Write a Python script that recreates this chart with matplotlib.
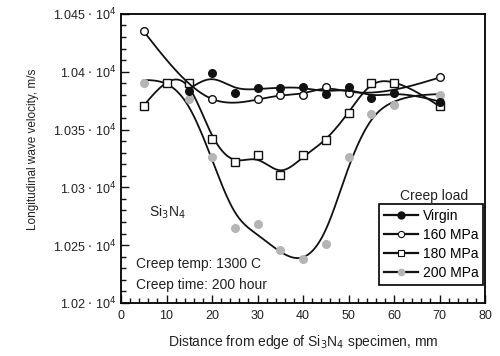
import numpy as np
import matplotlib.pyplot as plt
from matplotlib.ticker import MultipleLocator, FuncFormatter

plt.rcParams['font.family'] = ['Liberation Sans', 'DejaVu Sans']

# data, velocity in m/s
x_virgin = [15, 20, 25, 30, 35, 40, 45, 50, 55, 60, 70]
v_virgin = [10383, 10399, 10382, 10386, 10386, 10387, 10381, 10387, 10377, 10382, 10374]

x_160 = [5, 20, 30, 35, 40, 45, 50, 70]
v_160 = [10435, 10376, 10376, 10380, 10380, 10387, 10382, 10395]

x_180 = [5, 10, 15, 20, 25, 30, 35, 40, 45, 50, 55, 60, 70]
v_180 = [10370, 10390, 10390, 10342, 10322, 10328, 10311, 10328, 10341, 10364, 10390, 10390, 10370]

x_200 = [5, 10, 15, 20, 25, 30, 35, 40, 45, 50, 55, 60, 70]
v_200 = [10390, 10390, 10376, 10326, 10265, 10268, 10246, 10238, 10251, 10326, 10363, 10371, 10380]


def smooth_spline(x, y, alpha, n=400):
    # Reinsch smoothing spline (natural cubic)
    x = np.asarray(x, float)
    y = np.asarray(y, float)
    m = len(x)
    h = np.diff(x)
    Q = np.zeros((m, m - 2))
    R = np.zeros((m - 2, m - 2))
    for j in range(1, m - 1):
        Q[j - 1, j - 1] = 1 / h[j - 1]
        Q[j, j - 1] = -1 / h[j - 1] - 1 / h[j]
        Q[j + 1, j - 1] = 1 / h[j]
        R[j - 1, j - 1] = (h[j - 1] + h[j]) / 3
        if j < m - 2:
            R[j - 1, j] = h[j] / 6
            R[j, j - 1] = h[j] / 6
    gam = np.linalg.solve(R + alpha * Q.T @ Q, Q.T @ y)
    g = y - alpha * Q @ gam
    gam = np.concatenate([[0], gam, [0]])
    xs = np.linspace(x[0], x[-1], n)
    idx = np.clip(np.searchsorted(x, xs) - 1, 0, m - 2)
    t0, t1 = x[idx], x[idx + 1]
    hh = t1 - t0
    a = xs - t0
    b = t1 - xs
    ys = (a * g[idx + 1] + b * g[idx]) / hh - a * b / 6 * (
        (1 + a / hh) * gam[idx + 1] + (1 + b / hh) * gam[idx])
    return xs, ys


fig = plt.figure(figsize=(5, 3.56), dpi=100)
ax = fig.add_axes([0.242, 0.149, 0.728, 0.812])

lc = '#111111'
gray = '#b5b5b5'

xs, ys = smooth_spline(x_200, v_200, 20)
ax.plot(xs, ys, color=lc, lw=1.3)
ax.plot(x_200, v_200, 'o', ms=5.5, mfc=gray, mec=gray, ls='none')

xs, ys = smooth_spline(x_180, v_180, 4)
ax.plot(xs, ys, color=lc, lw=1.3)
ax.plot(x_180, v_180, 's', ms=5.5, mfc='white', mec=lc, mew=1.0, ls='none')

xs, ys = smooth_spline(x_160, v_160, 6)
ax.plot(xs, ys, color=lc, lw=1.3)
ax.plot(x_160, v_160, 'o', ms=5.5, mfc='white', mec=lc, mew=1.0, ls='none')

xs, ys = smooth_spline(x_virgin, v_virgin, 10)
ax.plot(xs, ys, color=lc, lw=1.3)
ax.plot(x_virgin, v_virgin, 'o', ms=5.5, mfc=lc, mec=lc, ls='none')

# legend handles
h1, = ax.plot([], [], '-o', color=lc, lw=1.6, ms=5, mfc=lc)
h2, = ax.plot([], [], '-o', color=lc, lw=1.6, ms=4.5, mfc='white', mew=0.8)
h3, = ax.plot([], [], '-s', color=lc, lw=1.6, ms=5, mfc='white', mew=0.8)
h4, = ax.plot([], [], '-o', color=lc, lw=1.6, ms=4.5, mfc=gray, mec=gray)
leg = ax.legend([h1, h2, h3, h4], ['Virgin', '160 MPa', '180 MPa', '200 MPa'],
                loc='lower right', bbox_to_anchor=(0.995, 0.062), fontsize=10,
                fancybox=False, framealpha=1, edgecolor='black',
                handlelength=2.5, handletextpad=0.3, borderpad=0.35,
                labelspacing=0.36, borderaxespad=0)
leg.get_frame().set_linewidth(1.2)
ax.text(0.86, 0.37, 'Creep load', transform=ax.transAxes, ha='center',
        va='center', fontsize=10, color='#222')

ax.text(0.077, 0.315, 'Si$_3$N$_4$', transform=ax.transAxes, va='center',
        fontsize=10, color='#222')
ax.text(0.041, 0.135, 'Creep temp: 1300 C', transform=ax.transAxes, va='center',
        fontsize=10, color='#222')
ax.text(0.041, 0.063, 'Creep time: 200 hour', transform=ax.transAxes, va='center',
        fontsize=10, color='#222')

ax.set_xlim(0, 80)
ax.set_ylim(10200, 10450)
ax.xaxis.set_major_locator(MultipleLocator(10))
ax.xaxis.set_minor_locator(MultipleLocator(2))
ax.yaxis.set_major_locator(MultipleLocator(50))
ax.yaxis.set_minor_locator(MultipleLocator(10))
ax.yaxis.set_major_formatter(FuncFormatter(lambda v, p: '%g $\\cdot$ 10$^4$' % (v / 1e4)))
ax.tick_params(which='both', direction='in', top=False, right=False,
               labelsize=9, colors='#111', labelcolor='#222')
ax.tick_params(which='major', length=6, width=1)
ax.tick_params(axis='x', which='major', pad=5)
ax.tick_params(which='minor', length=3.5, width=1)
for s in ax.spines.values():
    s.set_linewidth(1.3)

ax.set_xlabel('Distance from edge of Si$_3$N$_4$ specimen, mm', fontsize=10,
              color='#222', labelpad=8)
ax.set_ylabel('Longitudinal wave velocity, m/s', fontsize=8.5, color='#222')
ax.yaxis.set_label_coords(-0.225, 0.53)

plt.savefig('out.png', dpi=100)
